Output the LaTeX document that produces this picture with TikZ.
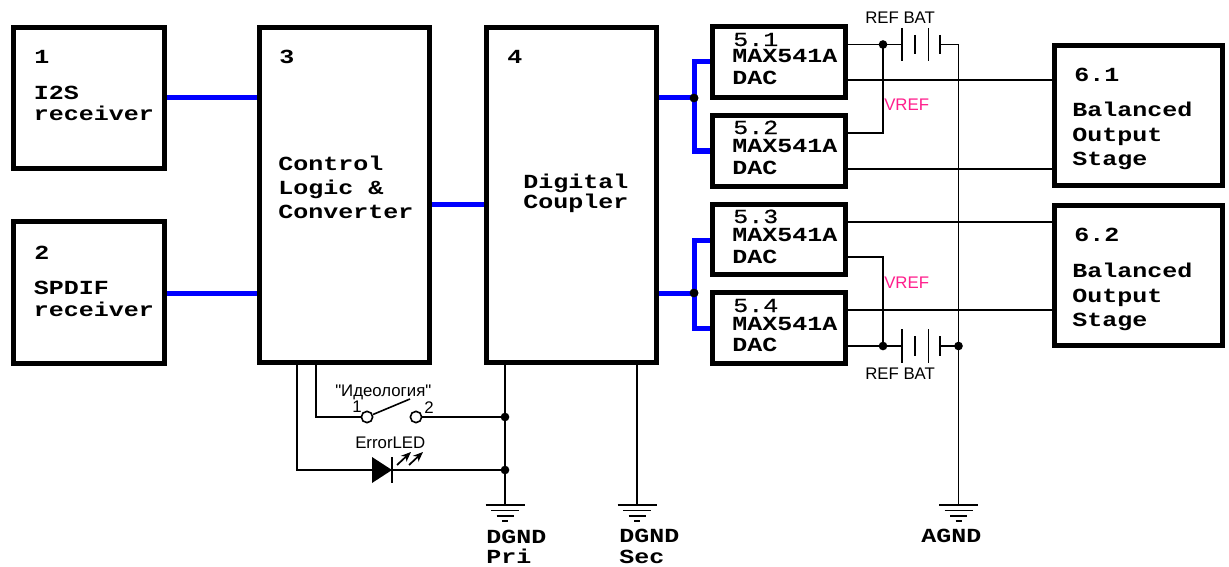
\documentclass[tikz,border=0pt]{standalone}
\usepackage{fontspec}
\setmainfont{Liberation Sans}
\newfontfamily\thinfont{Liberation Sans}
\newfontfamily\blockfont[FakeStretch=1.25]{Liberation Mono}
\newfontfamily\semifont[FakeStretch=1.25,FakeBold=0.7]{Liberation Mono}
\usetikzlibrary{arrows.meta}
\definecolor{busblue}{RGB}{0,0,255}
\definecolor{vrefpink}{RGB}{255,30,140}
\tikzset{
  x=0.75pt,y=-0.75pt,
  blockbox/.style={draw=black,line width=3.75pt,fill=white,inner sep=0pt},
  bus/.style={draw=busblue,line width=3.75pt},
  wire/.style={draw=black,line width=1.2pt},
  jdot/.style={circle,fill=black,inner sep=0pt,minimum size=6.5pt},
  hollow/.style={circle,draw=black,line width=1.2pt,fill=white,inner sep=0pt,minimum size=8.5pt},
  ledray/.style={line width=1.3pt,-{Stealth[length=7.5pt,width=6pt]}},
  mlab/.style={anchor=base west,inner sep=0pt,font=\blockfont\bfseries\fontsize{15}{15}\selectfont},
  nlab/.style={anchor=base west,inner sep=0pt,font=\semifont\fontsize{15}{15}\selectfont},
  slab/.style={anchor=base west,inner sep=0pt,font=\thinfont\fontsize{12.6}{12.6}\selectfont,text=black},
  plab/.style={anchor=base west,inner sep=0pt,font=\thinfont\fontsize{12.6}{12.6}\selectfont,text=vrefpink},
  gnd/.pic={
    \draw[line width=1.1pt] (-19.5,0) -- (19.5,0);
    \draw[line width=1.1pt] (-14,5.5) -- (14,5.5);
    \draw[line width=1.1pt] (-8.5,11) -- (8.5,11);
    \draw[line width=1.1pt] (-3,16) -- (3,16);
  },
}
\begin{document}
\begin{tikzpicture}
\useasboundingbox (0,0) rectangle (1229,567);
\fill[white] (0,0) rectangle (1229,567);

% blocks
\node[blockbox,minimum width=113.6pt,minimum height=106.1pt] (b1) at (88.75,97.75) {};
\node[blockbox,minimum width=113.6pt,minimum height=106.1pt] (b2) at (88.75,292.5) {};
\node[blockbox,minimum width=127.5pt,minimum height=251.6pt] (b3) at (344.5,194.75) {};
\node[blockbox,minimum width=127.5pt,minimum height=251.6pt] (b4) at (571,194.75) {};
\node[blockbox,minimum width=99.75pt,minimum height=53pt] (d1) at (779,62.25) {};
\node[blockbox,minimum width=99.75pt,minimum height=53pt] (d2) at (779,151) {};
\node[blockbox,minimum width=99.75pt,minimum height=53pt] (d3) at (779,239.5) {};
\node[blockbox,minimum width=99.75pt,minimum height=53pt] (d4) at (779,328) {};
\node[blockbox,minimum width=126pt,minimum height=104.25pt] (o1) at (1138,115.5) {};
\node[blockbox,minimum width=126pt,minimum height=105pt] (o2) at (1138,275) {};

% junctions
\node[jdot] (jb1) at (694,98) {};
\node[jdot] (jb2) at (694,293) {};
\node[jdot] (jr1) at (883,44.5) {};
\node[jdot] (jr2) at (883,346) {};
\node[jdot] (ja) at (958.5,346) {};
\node[jdot] (js) at (505,417) {};
\node[jdot] (jl) at (505,470) {};

% buses
\draw[bus] (b1.east |- 0,98) -- (b3.west |- 0,98);
\draw[bus] (b2.east |- 0,293) -- (b3.west |- 0,293);
\draw[bus] (b3.east |- 0,204) -- (b4.west |- 0,204);
\draw[bus] (b4.east |- 0,98) -- (jb1.center);
\draw[bus] (b4.east |- 0,293) -- (jb2.center);
\draw[bus] (d1.west |- 0,62) -- (694,62) -- (694,151) -- (d2.west |- 0,151);
\draw[bus] (d3.west |- 0,240) -- (694,240) -- (694,328) -- (d4.west |- 0,328);
\node[jdot] at (jb1) {};
\node[jdot] at (jb2) {};

% battery top
\coordinate (bt1) at (902,44.5);
\coordinate (bt2) at (940,44.5);
\coordinate (bb1) at (902,346);
\coordinate (bb2) at (940,346);
\coordinate (gA) at (958.5,505);
\coordinate (gP) at (505,505);
\coordinate (gS) at (637,505);
\foreach \bp/\by in {bt/44.5,bb/346}{
  \draw[wire] (902,\by-16.7) -- (902,\by+16.7);
  \draw[wire] (915,\by-9.7) -- (915,\by+9.7);
  \draw[wire] (928.5,\by-16.7) -- (928.5,\by+16.7);
  \draw[wire] (940,\by-9.7) -- (940,\by+9.7);
}

% signal wires
\draw[wire] (d1.east |- 0,44.5) -- (jr1.center) -- (bt1);
\draw[wire] (bt2) -- (958.5,44.5) -- (gA);
\draw[wire] (d2.east |- 0,133) -- (883,133) -- (jr1.center);
\draw[wire] (d1.east |- 0,80) -- (o1.west |- 0,80);
\draw[wire] (d2.east |- 0,169) -- (o1.west |- 0,169);
\draw[wire] (d3.east |- 0,222) -- (o2.west |- 0,222);
\draw[wire] (d4.east |- 0,310) -- (o2.west |- 0,310);
\draw[wire] (d3.east |- 0,257) -- (883,257) -- (jr2.center);
\draw[wire] (d4.east |- 0,346) -- (jr2.center) -- (bb1);
\draw[wire] (bb2) -- (ja.center);

% grounds
\draw[wire] (505,0 |- b4.south) -- (gP);
\draw[wire] (637,0 |- b4.south) -- (gS);
\pic at (gP) {gnd};
\pic at (gS) {gnd};
\pic at (gA) {gnd};

% switch
\node[hollow] (sw1) at (367,417) {};
\node[hollow] (sw2) at (416,417) {};
\coordinate (swtip) at (410,399);
\draw[wire] (316,0 |- b3.south) -- (316,417) -- (sw1.west);
\draw[wire] (sw1) -- (swtip);
\draw[wire] (sw2.east) -- (js.center);

% LED
\coordinate (ledA) at (372,470);
\coordinate (ledK) at (392,470);
\fill[black] (372,457) -- (392,470) -- (372,483) -- cycle;
\draw[wire] (392,457) -- (392,483);
\draw[wire] (297,0 |- b3.south) -- (297,470) -- (ledA);
\draw[wire] (ledK) -- (jl.center);
\draw[ledray] (397,465) -- (411,452);
\draw[ledray] (409,465) -- (423,452);

% block text
\node[mlab] (t1a) at (34,64) {1};
\node[mlab] (t1b) at (33.5,100) {I2S};
\node[mlab] (t1c) at (33.5,121) {receiver};
\node[mlab] (t2a) at (34,259) {2};
\node[mlab] (t2b) at (33.5,294) {SPDIF};
\node[mlab] (t2c) at (33.5,316) {receiver};
\node[mlab] (t3a) at (279,64) {3};
\node[mlab] (t3b) at (278,171) {Control};
\node[mlab] (t3c) at (278,195) {Logic \&};
\node[mlab] (t3d) at (278,219) {Converter};
\node[mlab] (t4a) at (507,64) {4};
\node[mlab] (t4b) at (523,188) {Digital};
\node[mlab] (t4c) at (523,209) {Coupler};

\node[nlab] (t51) at (733,46) {5.1};
\node[mlab] (t51b) at (732,63) {MAX541A};
\node[mlab] (t51c) at (732,85) {DAC};
\node[nlab] (t52) at (733,134) {5.2};
\node[mlab] (t52b) at (732,152) {MAX541A};
\node[mlab] (t52c) at (732,174) {DAC};
\node[nlab] (t53) at (733,223) {5.3};
\node[mlab] (t53b) at (732,241) {MAX541A};
\node[mlab] (t53c) at (732,263) {DAC};
\node[nlab] (t54) at (733,312) {5.4};
\node[mlab] (t54b) at (732,330) {MAX541A};
\node[mlab] (t54c) at (732,351) {DAC};

\node[mlab] (t61) at (1074,82) {6.1};
\node[mlab] (t61b) at (1072,117) {Balanced};
\node[mlab] (t61c) at (1072,142) {Output};
\node[mlab] (t61d) at (1072,166) {Stage};
\node[mlab] (t62) at (1074,241) {6.2};
\node[mlab] (t62b) at (1072,277) {Balanced};
\node[mlab] (t62c) at (1072,302) {Output};
\node[mlab] (t62d) at (1072,326) {Stage};

\node[mlab] (tg1) at (486,543) {DGND};
\node[mlab] (tg2) at (486,563) {Pri};
\node[mlab] (tg3) at (619,542) {DGND};
\node[mlab] (tg4) at (619,563) {Sec};
\node[mlab] (tg5) at (921,542) {AGND};

% thin labels
\node[slab] (rb1) at (865,24) {REF BAT};
\node[slab] (rb2) at (865,379) {REF BAT};
\node[plab] (vr1) at (884,111) {VREF};
\node[plab] (vr2) at (884,288) {VREF};
\node[slab] (sw) at (335,396) {"Идеология"};
\node[slab] (sw1t) at (352,412) {1};
\node[slab] (sw2t) at (424,413) {2};
\node[slab] (led) at (355,448) {ErrorLED};
\end{tikzpicture}
\end{document}
